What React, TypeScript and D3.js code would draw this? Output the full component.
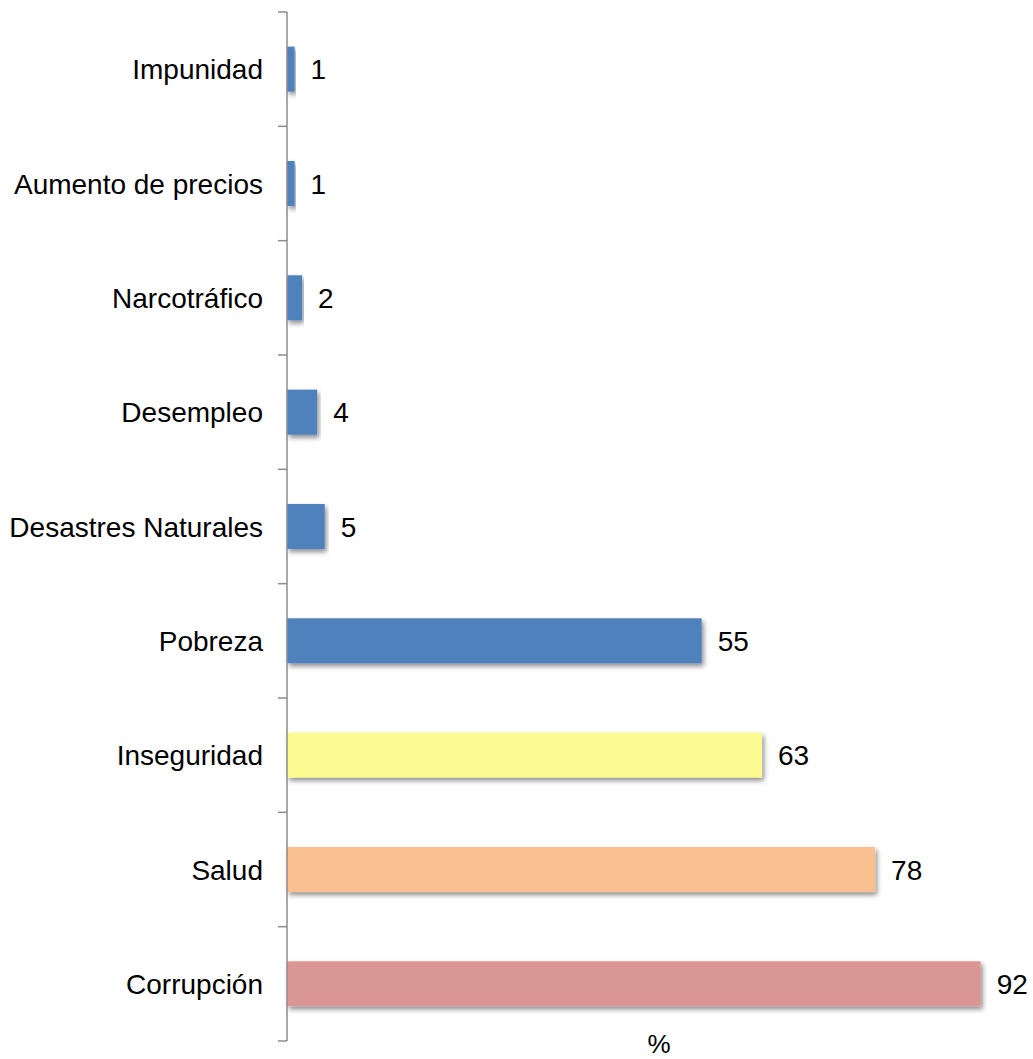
import React from "react";
import * as d3 from "d3";

const categories = [
  "Impunidad",
  "Aumento de precios",
  "Narcotráfico",
  "Desempleo",
  "Desastres Naturales",
  "Pobreza",
  "Inseguridad",
  "Salud",
  "Corrupción",
];
const values = [1, 1, 2, 4, 5, 55, 63, 78, 92];
const colors = [
  "#4F81BD",
  "#4F81BD",
  "#4F81BD",
  "#4F81BD",
  "#4F81BD",
  "#4F81BD",
  "#FAFA91",
  "#FAC090",
  "#D99694",
];
const axisTitle = "%";

export default function App() {
  const W = 1033;
  const H = 1059;
  const x0 = 287;
  const x = d3.scaleLinear().domain([0, 100]).range([x0, x0 + 754]);
  const y = d3
    .scaleBand<string>()
    .domain(categories)
    .range([12, 1041])
    .paddingInner(0.606)
    .paddingOuter(0.303);
  const step = y.step();
  const tickYs = d3.range(categories.length + 1).map((i) => 12 + i * step);
  const font = "'Liberation Sans', Arial, sans-serif";
  const fs = 28;

  return (
    <svg
      width={W}
      height={H}
      style={{ position: "absolute", left: 0, top: 0, background: "#fff" }}
      fontFamily={font}
    >
      <defs>
        <filter id="sh" x="-5%" y="-30%" width="115%" height="180%">
          <feDropShadow dx="2" dy="3" stdDeviation="2.5" floodColor="#000" floodOpacity="0.45" />
        </filter>
      </defs>
      {categories.map((c, i) => {
        const yy = y(c)!;
        return (
          <g key={c}>
            <rect
              x={x(0)}
              y={yy}
              width={x(values[i]) - x(0)}
              height={y.bandwidth()}
              fill={colors[i]}
              filter="url(#sh)"
            />
            <text
              x={x(values[i]) + 16}
              y={yy + y.bandwidth() / 2}
              dy="0.36em"
              fontSize={fs}
              fill="#000"
            >
              {values[i]}
            </text>
            <text
              x={263}
              y={yy + y.bandwidth() / 2}
              dy="0.36em"
              fontSize={fs}
              textAnchor="end"
              fill="#000"
            >
              {c}
            </text>
          </g>
        );
      })}
      <line x1={x0} x2={x0} y1={tickYs[0]} y2={tickYs[tickYs.length - 1]} stroke="#8c8c8c" strokeWidth={1.5} />
      {tickYs.map((t, i) => (
        <line key={i} x1={x0 - 9} x2={x0} y1={t} y2={t} stroke="#8c8c8c" strokeWidth={1.5} />
      ))}
      <text x={659} y={1053} fontSize={26} textAnchor="middle" fill="#000">
        {axisTitle}
      </text>
    </svg>
  );
}
